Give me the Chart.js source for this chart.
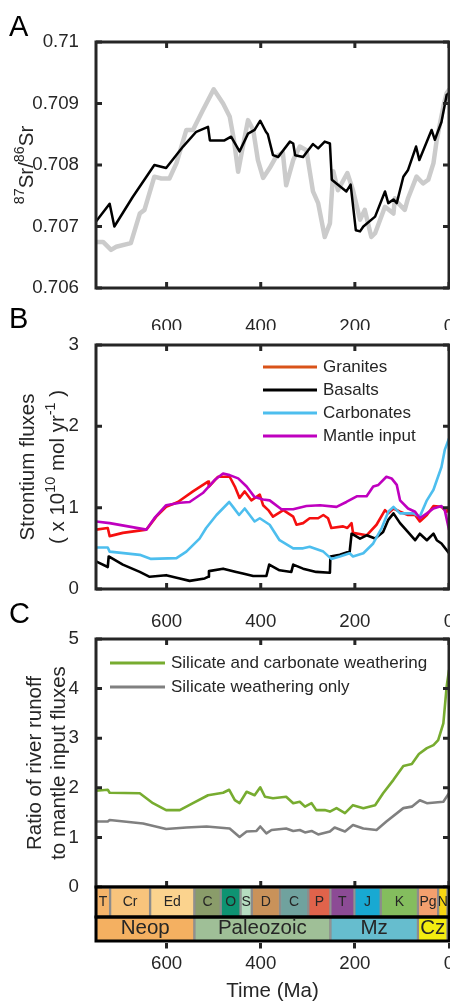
<!DOCTYPE html>
<html>
<head>
<meta charset="utf-8">
<script src="https://cdn.jsdelivr.net/npm/chart.js@4.4.3/dist/chart.umd.min.js"></script>
<style>
  html, body { margin: 0; padding: 0; background: #fff; }
  #fig { position: relative; width: 450px; height: 1005px; overflow: hidden; }
  #fig canvas { position: absolute; left: 0; }
</style>
</head>
<body>
<div id="fig">
  <canvas id="srChart" width="450" height="330" style="top:0"></canvas>
  <canvas id="fluxChart" width="450" height="335" style="top:295px"></canvas>
  <canvas id="ratioChart" width="450" height="310" style="top:590px"></canvas>
  <canvas id="timeChart" width="450" height="120" style="top:885px"></canvas>
</div>
<script>
const INK = "#262626";
const FONT = "'Liberation Sans', Arial, Helvetica, sans-serif";
Chart.defaults.font.family = FONT;
Chart.defaults.color = INK;

// ---- shared time axis (Ma, older on the left)
const X_TICKS = [600, 400, 200, 0];

// ---- A: seawater 87Sr/86Sr
const SR_TICKS = [0.706, 0.707, 0.708, 0.709, 0.71];
const SR_MODEL_AGE = [750, 721, 711, 672, 626, 601, 565, 537, 512, 508, 477, 463, 445, 427, 413, 401, 389, 385, 374, 363, 338, 331, 327, 310, 289, 278, 264, 253, 249, 218, 209, 198, 189, 182, 157, 136, 129, 118, 111, 97, 87, 70, 63, 37, 30, 16, 5, 0];
const SR_MODEL = [0.70708, 0.70737, 0.70700, 0.70748, 0.70800, 0.70795, 0.70830, 0.70854, 0.70862, 0.70840, 0.70840, 0.70846, 0.70822, 0.70851, 0.70857, 0.70872, 0.70854, 0.70850, 0.70816, 0.70813, 0.70838, 0.70835, 0.70816, 0.70813, 0.70834, 0.70827, 0.70838, 0.70835, 0.70776, 0.70757, 0.70768, 0.70694, 0.70692, 0.70700, 0.70716, 0.70757, 0.70738, 0.70744, 0.70738, 0.70781, 0.70792, 0.70830, 0.70808, 0.70857, 0.70841, 0.70870, 0.70914, 0.70917];
const SR_DATA_AGE = [750, 735, 718, 707, 676, 657, 647, 626, 611, 594, 579, 558, 544, 523, 500, 480, 466, 457, 448, 438, 427, 416, 406, 395, 381, 367, 353, 346, 331, 317, 303, 289, 278, 264, 253, 246, 236, 216, 204, 189, 179, 165, 157, 136, 118, 115, 108, 94, 87, 69, 55, 44, 33, 26, 12, 5, 0];
const SR_DATA = [0.70675, 0.70675, 0.70662, 0.70667, 0.70673, 0.70721, 0.70727, 0.70781, 0.70778, 0.70778, 0.70803, 0.70857, 0.70857, 0.70889, 0.70923, 0.70900, 0.70879, 0.70841, 0.70789, 0.70830, 0.70873, 0.70857, 0.70808, 0.70779, 0.70795, 0.70814, 0.70820, 0.70767, 0.70808, 0.70830, 0.70824, 0.70757, 0.70738, 0.70683, 0.70705, 0.70790, 0.70759, 0.70787, 0.70759, 0.70711, 0.70727, 0.70683, 0.70689, 0.70732, 0.70721, 0.70746, 0.70738, 0.70727, 0.70746, 0.70781, 0.70770, 0.70776, 0.70803, 0.70841, 0.70895, 0.70917, 0.70922];

// ---- B: strontium fluxes (x 10^10 mol/yr)
const FLUX_TICKS = [0, 1, 2, 3];
const GRANITE_AGE = [750, 725, 721, 693, 643, 622, 601, 576, 544, 512, 510, 491, 466, 455, 445, 434, 420, 402, 395, 384, 374, 352, 331, 324, 310, 296, 278, 267, 257, 250, 225, 216, 207, 204, 175, 154, 136, 129, 118, 104, 87, 72, 62, 47, 33, 16, 5, 0];
const GRANITE = [0.73, 0.75, 0.65, 0.69, 0.73, 0.89, 1.01, 1.07, 1.20, 1.32, 1.26, 1.38, 1.38, 1.26, 1.12, 1.20, 1.09, 1.16, 1.03, 0.97, 0.89, 0.97, 0.89, 0.79, 0.81, 0.87, 0.87, 0.91, 0.87, 0.75, 0.77, 0.75, 0.81, 0.69, 0.66, 0.79, 0.97, 0.93, 0.99, 0.95, 0.91, 0.91, 0.83, 0.91, 1.02, 1.01, 0.95, 1.01];
const BASALT_AGE = [750, 725, 723, 693, 657, 636, 601, 572, 551, 519, 512, 510, 480, 452, 438, 416, 388, 382, 360, 335, 331, 310, 282, 253, 252, 232, 211, 207, 189, 175, 157, 140, 129, 118, 104, 87, 72, 62, 47, 33, 26, 16, 0];
const BASALT = [0.34, 0.27, 0.40, 0.30, 0.21, 0.15, 0.17, 0.13, 0.10, 0.13, 0.15, 0.22, 0.25, 0.21, 0.19, 0.16, 0.16, 0.30, 0.23, 0.21, 0.30, 0.25, 0.21, 0.20, 0.40, 0.42, 0.46, 0.68, 0.62, 0.66, 0.62, 0.70, 0.85, 0.93, 0.81, 0.70, 0.60, 0.68, 0.60, 0.68, 0.60, 0.56, 0.44];
const CARBONATE_AGE = [750, 725, 721, 657, 633, 579, 558, 530, 516, 494, 467, 459, 446, 434, 413, 402, 381, 360, 331, 310, 296, 267, 250, 232, 211, 204, 182, 161, 143, 129, 118, 104, 76, 62, 47, 33, 16, 9, 0];
const CARBONATE = [0.51, 0.51, 0.46, 0.42, 0.37, 0.38, 0.46, 0.62, 0.75, 0.91, 1.07, 1.01, 0.91, 0.99, 0.83, 0.87, 0.79, 0.60, 0.50, 0.50, 0.52, 0.46, 0.37, 0.40, 0.44, 0.40, 0.44, 0.56, 0.75, 0.95, 1.01, 0.93, 0.93, 0.89, 1.09, 1.22, 1.50, 1.71, 1.85];
const MANTLE_AGE = [750, 721, 643, 626, 601, 572, 551, 523, 498, 480, 466, 448, 430, 413, 395, 381, 356, 331, 303, 274, 239, 218, 196, 175, 161, 150, 133, 122, 111, 104, 87, 72, 62, 47, 33, 16, 9, 0];
const MANTLE = [0.83, 0.81, 0.73, 0.87, 1.03, 1.06, 1.07, 1.18, 1.34, 1.42, 1.40, 1.36, 1.26, 1.13, 1.10, 1.09, 0.98, 0.98, 1.02, 1.03, 1.01, 1.07, 1.14, 1.14, 1.26, 1.28, 1.38, 1.36, 1.28, 1.09, 0.99, 0.95, 0.87, 0.93, 0.99, 1.02, 0.97, 0.73];

// ---- C: river runoff / mantle input
const RATIO_TICKS = [0, 1, 2, 3, 4, 5];
const SIL_CARB_AGE = [750, 725, 721, 657, 629, 601, 572, 544, 512, 480, 467, 455, 445, 430, 413, 401, 391, 374, 346, 331, 317, 306, 292, 282, 264, 253, 239, 221, 204, 182, 157, 140, 118, 97, 79, 64, 47, 33, 23, 12, 5, 0];
const SIL_CARB = [1.94, 1.96, 1.90, 1.89, 1.69, 1.55, 1.55, 1.69, 1.85, 1.90, 1.96, 1.75, 1.69, 1.92, 1.85, 2.01, 1.82, 1.79, 1.82, 1.69, 1.72, 1.62, 1.69, 1.55, 1.55, 1.52, 1.59, 1.49, 1.65, 1.59, 1.65, 1.89, 2.16, 2.44, 2.48, 2.68, 2.80, 2.86, 2.96, 3.30, 4.04, 4.37];
const SIL_AGE = [750, 725, 721, 650, 601, 558, 515, 466, 445, 430, 409, 401, 388, 377, 346, 331, 317, 306, 292, 278, 253, 243, 221, 204, 182, 154, 133, 97, 79, 62, 47, 12, 0];
const SIL = [1.32, 1.32, 1.35, 1.28, 1.17, 1.20, 1.22, 1.18, 1.01, 1.12, 1.13, 1.22, 1.08, 1.15, 1.18, 1.13, 1.15, 1.10, 1.13, 1.06, 1.12, 1.20, 1.12, 1.25, 1.18, 1.15, 1.32, 1.59, 1.62, 1.75, 1.69, 1.72, 1.89];

// ---- geologic time scale
const PERIOD_LABELS = ["T", "Cr", "Ed", "C", "O", "S", "D", "C", "P", "T", "J", "K", "Pg", "N"];
const PERIOD_START = [750, 720, 635, 541, 485, 443, 419, 359, 299, 252, 201, 145, 66, 23];
const PERIOD_END = [720, 635, 541, 485, 443, 419, 359, 299, 252, 201, 145, 66, 23, 0];
const PERIOD_COLORS = ["#F5B46A", "#F8C47C", "#FBD38E", "#8A9C6A", "#0E9372", "#B6DDC0", "#C9925A", "#70A29E", "#E0634B", "#8C4B95", "#18A9D2", "#84BD5E", "#F4A06E", "#F7D612"];
const ERA_LABELS = ["Neop", "Paleozoic", "Mz", "Cz"];
const ERA_START = [750, 541, 252, 66];
const ERA_END = [541, 252, 66, 0];
const ERA_COLORS = ["#F4B061", "#9FBF97", "#66BDCE", "#F3EC10"];

const pts = (ages, vals) => ages.map((a, i) => ({ x: a, y: vals[i] }));

function series(label, ages, vals, color, width, order, extra = {}) {
  return {
    label, data: pts(ages, vals), borderColor: color, backgroundColor: color,
    borderWidth: width, pointRadius: 0, tension: 0, order,
    borderJoinStyle: "round", borderCapStyle: "round", ...extra,
  };
}

// no automatic padding from tick labels: the plot box is placed by hand
function noPad(s) {
  s.paddingLeft = 0; s.paddingRight = 0; s.paddingTop = 0; s.paddingBottom = 0;
}

// text with superscripts, centred on 0 along the baseline
function drawRich(ctx, segs, size) {
  const supSize = size * 0.7;
  const parts = segs.map((s) => (typeof s === "string" ? { t: s, sup: false } : s));
  const widths = parts.map((p) => {
    ctx.font = `${p.sup ? supSize : size}px ${FONT}`;
    return ctx.measureText(p.t).width;
  });
  let x = -widths.reduce((s, w) => s + w, 0) / 2;
  ctx.textAlign = "left";
  ctx.textBaseline = "alphabetic";
  ctx.fillStyle = INK;
  parts.forEach((p, i) => {
    ctx.font = `${p.sup ? supSize : size}px ${FONT}`;
    ctx.fillText(p.t, x, p.sup ? -size * 0.42 : 0);
    x += widths[i];
  });
}

// MATLAB-like box with inward ticks on all four sides
const axesBox = {
  id: "axesBox",
  afterDraw(chart, args, o) {
    if (!o.enabled) return;
    const { ctx, chartArea: a, scales: { x, y } } = chart;
    const len = 6;
    ctx.save();
    ctx.strokeStyle = INK;
    ctx.lineWidth = 3;
    ctx.beginPath();
    x.ticks.forEach((t) => {
      const px = x.getPixelForValue(t.value);
      ctx.moveTo(px, a.top); ctx.lineTo(px, a.top + len);
      ctx.moveTo(px, a.bottom); ctx.lineTo(px, a.bottom - len);
    });
    y.ticks.forEach((t) => {
      const py = y.getPixelForValue(t.value);
      ctx.moveTo(a.left, py); ctx.lineTo(a.left + len, py);
      ctx.moveTo(a.right, py); ctx.lineTo(a.right - len, py);
    });
    ctx.stroke();
    ctx.strokeRect(a.left, a.top, a.right - a.left, a.bottom - a.top);
    ctx.restore();
  },
};

// panel letter and rotated y-axis title
const panelText = {
  id: "panelText",
  afterDraw(chart, args, o) {
    if (!o.letter) return;
    const { ctx, chartArea: a } = chart;
    ctx.save();
    ctx.fillStyle = "#000";
    ctx.font = `29px ${FONT}`;
    ctx.textAlign = "left";
    ctx.textBaseline = "alphabetic";
    ctx.fillText(o.letter, 9, o.letterY);
    const cy = (a.top + a.bottom) / 2;
    o.title.forEach((segs, i) => {
      ctx.save();
      ctx.translate(o.titleX[i], cy);
      ctx.rotate(-Math.PI / 2);
      drawRich(ctx, segs, 20.5);
      ctx.restore();
    });
    ctx.restore();
  },
};

// line-sample legend inside the plot
const lineLegend = {
  id: "lineLegend",
  afterDatasetsDraw(chart, args, o) {
    if (!o.enabled) return;
    const { ctx, chartArea: a } = chart;
    ctx.save();
    ctx.font = `17px ${FONT}`;
    ctx.textAlign = "left";
    ctx.textBaseline = "middle";
    ctx.lineWidth = 3;
    chart.data.datasets.forEach((ds, i) => {
      const y = a.top + o.dy + i * o.step;
      const x0 = a.left + o.dx;
      ctx.strokeStyle = ds.legendColor || ds.borderColor;
      ctx.beginPath(); ctx.moveTo(x0, y); ctx.lineTo(x0 + o.length, y); ctx.stroke();
      ctx.fillStyle = INK;
      ctx.fillText(ds.label, x0 + o.length + 6, y);
    });
    ctx.restore();
  },
};

// labels and black row frames for the time-scale bars
const eraBars = {
  id: "eraBars",
  afterDatasetsDraw(chart, args, o) {
    if (!o.enabled) return;
    const { ctx, chartArea: a } = chart;
    ctx.save();
    ctx.textAlign = "center";
    ctx.textBaseline = "middle";
    ctx.fillStyle = INK;
    chart.data.datasets.forEach((ds, di) => {
      const meta = chart.getDatasetMeta(di);
      ctx.font = `${ds.fontSize}px ${FONT}`;
      meta.data.forEach((bar, i) => {
        const { x, y, base, height } = bar.getProps(["x", "y", "base", "height"], true);
        const l = Math.min(x, base), r = Math.max(x, base);
        ctx.save();
        ctx.beginPath(); ctx.rect(l, y - height / 2, r - l, height); ctx.clip();
        ctx.fillText(ds.names[i], (l + r) / 2, y + ds.textShift);
        ctx.restore();
      });
      const b = meta.data[0].getProps(["y", "height"], true);
      ctx.strokeStyle = "#000";
      ctx.lineWidth = 3;
      ctx.strokeRect(a.left, b.y - b.height / 2, a.right - a.left, b.height);
    });
    ctx.restore();
  },
};

Chart.register(axesBox, panelText, lineLegend, eraBars);

function timeAxis(height, showLabels, pad) {
  return {
    type: "linear", min: 0, max: 750, reverse: true,
    afterBuildTicks: (s) => { s.ticks = X_TICKS.map((v) => ({ value: v })); },
    afterFit: (s) => { s.height = height; noPad(s); },
    grid: { display: false }, border: { display: false },
    ticks: { display: showLabels, padding: pad, font: { size: 18.7 }, color: INK, maxRotation: 0, autoSkip: false },
  };
}

function valueAxis(min, max, ticks, fmt) {
  return {
    type: "linear", min, max,
    afterBuildTicks: (s) => { s.ticks = ticks.map((v) => ({ value: v })); },
    afterFit: (s) => { s.width = 96; noPad(s); },
    grid: { display: false }, border: { display: false },
    ticks: { padding: 9, font: { size: 18.7 }, color: INK, callback: fmt },
  };
}

function lineOptions(padTop, x, y, extra) {
  return {
    responsive: false, animation: false, devicePixelRatio: 1, events: [],
    layout: { padding: { top: padTop, right: 1, left: 0, bottom: 0 }, autoPadding: false },
    plugins: { legend: { display: false }, tooltip: { enabled: false }, axesBox: { enabled: true }, ...extra },
    scales: { x, y },
  };
}

// A
new Chart(document.getElementById("srChart"), {
  type: "line",
  data: {
    datasets: [
      series("Model", SR_MODEL_AGE, SR_MODEL, "#000000", 2.5, 1),
      series("Seawater", SR_DATA_AGE, SR_DATA, "#CBCBCB", 4.5, 2),
    ],
  },
  options: lineOptions(42, timeAxis(42, true, 20),
    valueAxis(0.706, 0.71, SR_TICKS, (v) => String(+Number(v).toFixed(3))),
    { panelText: { letter: "A", letterY: 36, titleX: [33], title: [[{ t: "87", sup: true }, "Sr/", { t: "86", sup: true }, "Sr"]] } }),
});

// B
new Chart(document.getElementById("fluxChart"), {
  type: "line",
  data: {
    datasets: [
      series("Granites", GRANITE_AGE, GRANITE, "#F50F0F", 2.6, 4, { legendColor: "#D95319" }),
      series("Basalts", BASALT_AGE, BASALT, "#000000", 2.6, 3),
      series("Carbonates", CARBONATE_AGE, CARBONATE, "#4DBEEE", 2.6, 2),
      series("Mantle input", MANTLE_AGE, MANTLE, "#BF00BF", 2.6, 1),
    ],
  },
  options: lineOptions(50, timeAxis(41, true, 14),
    valueAxis(0, 3, FLUX_TICKS, (v) => String(v)),
    {
      lineLegend: { enabled: true, dx: 167, dy: 22, step: 23, length: 54 },
      panelText: {
        letter: "B", letterY: 33, titleX: [34, 64],
        title: [["Strontium fluxes"], ["( x 10", { t: "10", sup: true }, " mol yr", { t: "-1", sup: true }, " )"]],
      },
    }),
});

// C
new Chart(document.getElementById("ratioChart"), {
  type: "line",
  data: {
    datasets: [
      series("Silicate and carbonate weathering", SIL_CARB_AGE, SIL_CARB, "#77AC30", 2.6, 1),
      series("Silicate weathering only", SIL_AGE, SIL, "#808080", 2.6, 2),
    ],
  },
  options: lineOptions(49, timeAxis(13, false, 0),
    valueAxis(0, 5, RATIO_TICKS, (v) => String(v)),
    {
      lineLegend: { enabled: true, dx: 14, dy: 24, step: 24, length: 55 },
      panelText: { letter: "C", letterY: 33, titleX: [41, 65], title: [["Ratio of river runoff"], ["to mantle input fluxes"]] },
    }),
});

// time scale
new Chart(document.getElementById("timeChart"), {
  type: "bar",
  data: {
    labels: ["period", "era"],
    datasets: [
      {
        label: "Periods", names: PERIOD_LABELS, fontSize: 14, textShift: 0, barThickness: 30,
        data: PERIOD_START.map((s, i) => ({ x: [s, PERIOD_END[i]], y: "period" })),
        backgroundColor: PERIOD_COLORS,
      },
      {
        label: "Eras", names: ERA_LABELS, fontSize: 20.5, textShift: -1, barThickness: 24,
        data: ERA_START.map((s, i) => ({ x: [s, ERA_END[i]], y: "era" })),
        backgroundColor: ERA_COLORS,
      },
    ],
  },
  options: {
    indexAxis: "y", responsive: false, animation: false, devicePixelRatio: 1, events: [],
    layout: { padding: { top: 3.5, left: 96, right: 1, bottom: 0 }, autoPadding: false },
    datasets: {
      bar: {
        grouped: false, borderSkipped: false, borderColor: "#8C8C8C",
        borderWidth: { left: 1.5, right: 1.5, top: 0, bottom: 0 },
      },
    },
    plugins: { legend: { display: false }, tooltip: { enabled: false }, eraBars: { enabled: true } },
    scales: {
      x: {
        type: "linear", min: 0, max: 750, reverse: true,
        afterBuildTicks: (s) => { s.ticks = X_TICKS.map((v) => ({ value: v })); },
        afterFit: (s) => { s.height = 62.5; noPad(s); },
        grid: { display: true, drawOnChartArea: false, drawTicks: true, tickLength: 6, color: INK, lineWidth: 3 },
        border: { display: false },
        ticks: { padding: 4, font: { size: 18.7 }, color: INK, maxRotation: 0, autoSkip: false },
        title: { display: true, text: "Time (Ma)", color: INK, font: { size: 20.5 }, padding: { top: 0, bottom: 1 } },
      },
      y: { type: "category", display: false, offset: true },
    },
  },
});
</script>
</body>
</html>
